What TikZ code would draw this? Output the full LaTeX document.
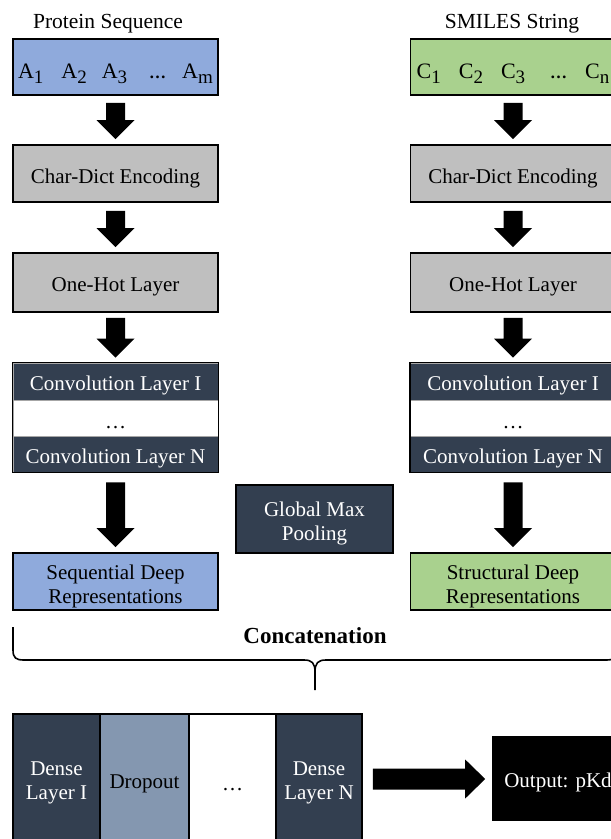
\documentclass[tikz,border=0pt]{standalone}
\usepackage{fontspec}
\setmainfont{Liberation Serif}
\usetikzlibrary{calc}
\definecolor{blueF}{HTML}{8FAADC}
\definecolor{greenF}{HTML}{A9D18E}
\definecolor{grayF}{HTML}{BFBFBF}
\definecolor{navyF}{HTML}{333F50}
\definecolor{dropF}{HTML}{8497B0}
\newcommand\subsc[1]{\raisebox{-5pt}{\fontsize{19}{19}\selectfont #1}}
\newcommand\blockdown[3]{%
  \fill let \p1=($(#1.south)+(0,#3)$), \p2=($(#2.north)+(0,-5)$) in
  (\x1-9.5pt,\y1) -- (\x1-9.5pt,\y2+19pt) -- (\x1-19pt,\y2+19pt) -- (\x1,\y2)
  -- (\x1+19pt,\y2+19pt) -- (\x1+9.5pt,\y2+19pt) -- (\x1+9.5pt,\y1) -- cycle;}
\newcommand\blockright[2]{%
  \fill let \p1=($(#1.east)+(10,-1)$), \p2=($(#2.west)+(-7,0)$) in
  (\x1,\y1+10.5pt) -- (\x2-20pt,\y1+10.5pt) -- (\x2-20pt,\y1+19.5pt) -- (\x2,\y1)
  -- (\x2-20pt,\y1-19.5pt) -- (\x2-20pt,\y1-10.5pt) -- (\x1,\y1-10.5pt) -- cycle;}
\begin{document}
\begin{tikzpicture}[x=1pt,y=-1pt,font=\fontsize{21}{24}\selectfont,
  box/.style={draw=black,line width=1.6pt,inner sep=0pt,align=center,minimum width=205pt,
    execute at begin node=\rule{0pt}{22pt}},
  plainbox/.style={draw=black,line width=1.6pt,inner sep=0pt,minimum width=205pt},
  sub/.style={draw=gray!70,line width=0.8pt,inner sep=0pt,align=center,minimum width=205pt,
    execute at begin node=\rule{0pt}{22pt}},
  dense/.style={draw=black,line width=1.6pt,inner sep=0pt,align=center,minimum height=132pt,
    execute at begin node=\rule{0pt}{21pt}},
  txt/.style={inner sep=0pt,align=center}]
\useasboundingbox (0,0) rectangle (611,839);

% titles
\node[txt,font=\fontsize{21.5}{24}\selectfont] (ptitle) at (108,24) {Protein Sequence};
\node[txt,font=\fontsize{21.5}{24}\selectfont] (stitle) at (512,24) {SMILES String};

% input boxes
\node[box,fill=blueF,minimum height=56pt] (prot) at (115.5,67)
  {\rule{0pt}{28pt}\fontsize{22}{24}\selectfont A\subsc{1}\hspace{18pt}A\subsc{2}\hspace{15pt}A\subsc{3}\hspace{22pt}\textbf{\fontsize{17}{17}\selectfont …}\hspace{16pt}A\subsc{m}};
\node[box,fill=greenF,minimum height=56pt] (smi) at (513,67)
  {\rule{0pt}{28pt}\fontsize{22}{24}\selectfont C\subsc{1}\hspace{18pt}C\subsc{2}\hspace{18pt}C\subsc{3}\hspace{25pt}\textbf{\fontsize{17}{17}\selectfont …}\hspace{18pt}C\subsc{n}};

% encoding
\node[box,fill=grayF,minimum height=57pt] (cde1) at (115.5,173.5) {\rule{0pt}{24pt}Char-Dict Encoding};
\node[box,fill=grayF,minimum height=57pt] (cde2) at (513,173.5) {\rule{0pt}{24pt}Char-Dict Encoding};

% one-hot
\node[box,fill=grayF,minimum height=59pt] (oh1) at (115.5,282.5) {One-Hot Layer};
\node[box,fill=grayF,minimum height=59pt] (oh2) at (513,282.5) {One-Hot Layer};

% conv stacks
\node[sub,fill=navyF,text=white,minimum height=37pt] (cva1) at (115.5,381.5) {Convolution Layer I};
\node[sub,fill=white,minimum height=36pt] (cvd1) at (115.5,418) {…};
\node[sub,fill=navyF,text=white,minimum height=36pt] (cvn1) at (115.5,454) {\rule{0pt}{24pt}Convolution Layer N};
\draw[line width=1.6pt] (cva1.north west) rectangle (cvn1.south east);

\node[sub,fill=navyF,text=white,minimum height=37pt] (cva2) at (513,381.5) {Convolution Layer I};
\node[sub,fill=white,minimum height=36pt] (cvd2) at (513,418) {…};
\node[sub,fill=navyF,text=white,minimum height=36pt] (cvn2) at (513,454) {\rule{0pt}{24pt}Convolution Layer N};
\draw[line width=1.6pt] (cva2.north west) rectangle (cvn2.south east);

% global max pooling
\node[plainbox,fill=navyF,minimum width=157pt,minimum height=68pt] (gmp) at (314.5,519) {};
\node[txt,text=white] (gmpt) at ($(gmp)+(0,4)$) {Global Max\\Pooling};

% representations
\node[plainbox,fill=blueF,minimum height=57pt] (seq) at (115.5,581.5) {};
\node[txt] (seqt) at ($(seq)+(0,5)$) {Sequential Deep\\Representations};
\node[plainbox,fill=greenF,minimum height=57pt] (str) at (513,581.5) {};
\node[txt] (strt) at ($(str)+(0,5)$) {Structural Deep\\Representations};

% block arrows
\blockdown{prot}{cde1}{7}
\blockdown{cde1}{oh1}{8}
\blockdown{oh1}{cva1}{5}
\blockdown{cvn1}{seq}{10}
\blockdown{smi}{cde2}{7}
\blockdown{cde2}{oh2}{8}
\blockdown{oh2}{cva2}{5}
\blockdown{cvn2}{str}{10}

% concatenation brace
\node[txt,font=\bfseries\fontsize{23}{24}\selectfont] (concat) at (315,636) {Concatenation};
\draw[line width=1.6pt,line join=round]
  (13,627) -- (13,650) .. controls (13,658) and (16,660) .. (24,660) -- (304,660)
  .. controls (312,660) and (315,663) .. (315,672) -- (315,690);
\draw[line width=1.6pt,line join=round]
  (315,672) .. controls (315,663) and (318,660) .. (326,660) -- (606,660)
  .. controls (614,660) and (617,658) .. (617,650) -- (617,627);

% dense stack
\node[dense,fill=navyF,minimum width=87pt] (d1) at (56.5,780) {};
\node[txt,text=white] (d1t) at ($(d1)+(0,3)$) {Dense\\Layer I};
\node[dense,fill=dropF,minimum width=89pt] (drop) at (144.5,780) {Dropout};
\node[dense,fill=white,minimum width=87pt] (dd) at (232.5,780) {…};
\node[dense,fill=navyF,minimum width=86pt] (dn) at (319,780) {};
\node[txt,text=white] (dnt) at ($(dn)+(0,3)$) {Dense\\Layer N};

% output
\node[box,fill=black,text=white,minimum width=130pt,minimum height=83pt] (out) at (558,778.5) {Output: pKd};
\blockright{dn}{out}
\end{tikzpicture}
\end{document}
